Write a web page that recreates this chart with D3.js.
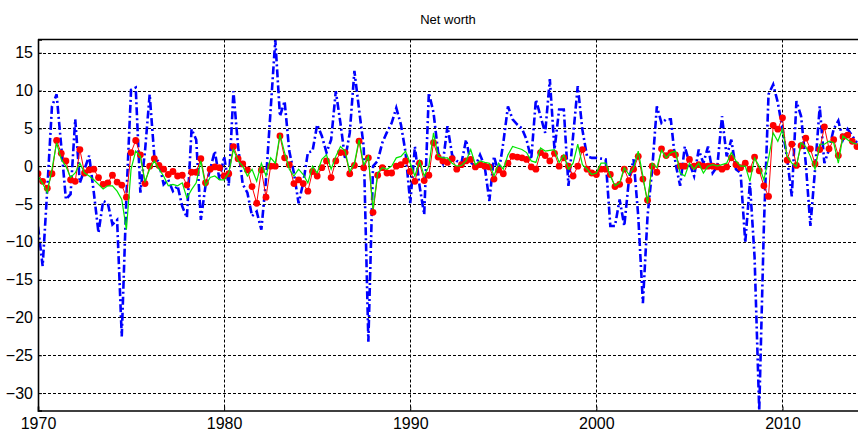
<!DOCTYPE html>
<html>
<head>
<meta charset="utf-8">
<script src="https://cdn.jsdelivr.net/npm/d3@7"></script>
<style>
  body { margin: 0; background: #fff; }
  text { font-family: "Liberation Sans", Arial, sans-serif; }
</style>
</head>
<body>
<div id="chart"></div>
<script>
// quarterly series, first point 1970 Q1
const startYear = 1970;
const xTicks = [1970, 1980, 1990, 2000, 2010];
const yTicks = [15, 10, 5, 0, -5, -10, -15, -20, -25, -30];

const blueSeries = [
  -8, -13.2, -3, 7.9, 9.5, 2.6, -4.4, -3.7, 6.2, -2.2, -0.4, 1.4, -3.5, -8.8, -4.6, -4.9, -7.7, -7.1, -22.5, -4,
  10.1, 10.4, -3.5, 2, 9.5, 1.3, 0.5, -2.4, -1.8, -3.3, -2.6, -5.3, -6.8, 4.9, 3.5, -7.1, -2.6, -0.4, 2.0, -1.8,
  1.3, -2.6, 9.9, 2.6, -2.4, -3.5, -6.6, -6.0, -8.4, -1.8, 7.5, 16.7, 6.6, 8.6, 2, -0.9, -4.9, -2.2, 1.8, 2.0,
  5.5, 4.0, 1.8, 3.5, 9.9, 5.7, 0.9, 4.4, 12.6, 7.5, 2.6, -23.2, 0, 0.7, 3.1, 4.5, 5.7, 7.7, 5.5, 1.8,
  -4.9, 2.6, -2.6, -6.4, 9.7, 7.1, 1.8, 0.4, 5.3, 1.5, 0.7, 0.4, 3.5, 0.5, 0, 1.5, 0, -4.6, 1.3, -0.9,
  3.1, 7.9, 6.2, 5.5, 5.0, 3.5, 0.9, 8.8, 6.6, 4.4, 11.5, 2.2, 7.5, 7.5, -2.6, 4.0, 10.6, 4.8, 1.3, 1.1,
  1.1, 1.0, 0.9, -7.9, -7.9, -4.4, -7.9, -1.8, 0.9, -6.6, -18.1, -6.6, -0.4, 7.9, 5.7, 6.2, 6.2, 0.4, -2.6, 2.6,
  0.4, -1.3, 2.2, 0.4, 2.6, -0.9, 0, 6.6, 1.3, 3.5, -0.4, -0.9, -10.1, -2.2, -12, -32.3, -8, 9.5, 10.8, 8.4,
  4.9, 1.0, -4.0, 8.6, 6.6, 0.4, -7.9, -0.4, 7.9, 0.4, 2.2, 4.9, 6.0, 3.5, 4.9, 4.0, 3.1
];

const redSeries = [
  -1.0, -2.0, -2.9, -1.0, 3.4, 1.7, 0.7, -1.8, -2.0, 2.2, -0.9, -0.5, -0.4, -1.5, -2.4, -2.2, -1.2, -2.1, -2.5, -4.1,
  1.8, 3.4, 1.5, -2.3, 0, 1.0, 0.1, -0.4, -1.1, -0.7, -1.3, -1.2, -2.5, -0.8, -0.8, 1.0, -2.2, -0.4, -0.1, -0.2,
  -1.3, -1.0, 2.6, 1.0, 0.3, -0.5, -2.7, -4.9, -0.5, -4.1, 0, 0, 4.0, 1.1, 0.2, -2.3, -1.8, -2.3, -3.3, -0.7,
  -1.3, -0.2, 0.7, -1.5, 0.7, 1.8, 1.8, -1.0, 0.1, 3.3, -0.2, 1.1, -6.1, -1.2, -0.2, -0.9, -0.9, 0, 0.2, 0.7,
  -0.7, -2.0, 0.4, -1.9, -1.2, 3.1, 1.2, 0.7, 0.5, 1.0, -0.4, 0.2, 0.7, 0.9, -0.1, 0.2, 0, -0.1, -1.7, -0.5,
  -1.0, 0.4, 1.3, 1.2, 1.1, 0.9, -0.1, -0.4, 1.8, 1.4, 0.7, 1.7, 0, 1.1, 0, -1.3, 0, 2.2, -0.4, -0.9,
  -1.1, -0.4, -0.4, -1.1, -2.7, -2.4, -0.4, -1.9, -0.4, 1.3, -1.7, -4.5, 0, -0.8, 2.3, 1.4, 1.8, 1.5, 0, 0,
  0.9, 0, 0.2, 0, 0, 0, -0.1, -0.4, -0.1, 1.1, 0.2, -0.2, 0.4, -0.4, 1.2, -0.6, -2.6, -4.0, 5.4, 4.9,
  6.4, 0.8, 2.9, 0.1, 2.7, 3.7, 2.3, 0.3, 2.2, 5.2, 2.3, 3.5, 1.4, 3.9, 4.1, 3.3, 2.6
];

const greenSeries = [
  -1.3, -2.3, -3.5, -0.4, 3.1, 0.9, 0, -1.5, -0.9, 0.4, -0.9, -1.3, -1.8, -2.4, -3.0, -2.6, -2.6, -3.3, -4.4, -8.4,
  -0.4, 2.0, 1.3, -2.0, -0.4, 0.7, -0.4, -1.3, -2.6, -2.4, -2.6, -2.2, -4.2, -3.1, -2.2, 0.7, -2.6, -1.5, -1.3, -1.8,
  -1.8, -0.9, 2.2, 0.7, 0, -1.3, -0.4, -2.0, 0.4, -1.3, 1.1, 0.4, 4.2, 1.8, -0.4, -1.3, -0.4, -1.1, -2.2, 0,
  -0.9, 0.9, 1.5, -0.4, 1.3, 2.6, 2.0, -0.7, 0.4, 3.5, 0.2, 1.3, -5.7, -0.9, -0.2, -0.4, 0, 1.1, 1.3, 2.0,
  0.4, -1.3, 0.7, -1.3, 0, 4.4, 1.3, 1.1, 1.1, 0.4, 0, 0.1, 0.7, 2.2, 0.2, 0.7, 0.5, 0.4, -1.3, 0.4,
  -0.4, 1.5, 2.6, 2.4, 2.2, 1.8, 0.7, 0.5, 2.4, 2.0, 2.1, 2.2, 0.5, 1.5, -0.4, 0.4, 2.9, 0.2, -0.4, -1.1,
  -0.9, 0.4, 0.4, -1.3, -2.6, -2.2, -0.2, -1.1, -0.2, 2.0, -1.3, -4.9, 0.4, -0.2, 2.1, 1.1, 1.8, 2.0, -0.9, -1.3,
  0.4, -0.4, 0.4, -0.9, 0, 0.2, 0, 0.2, 0.4, 1.8, 0.7, 0, 0, -2.0, 1.1, 0, -1.8, 1.0, 4.4, 3.3,
  4.9, 1.3, 0.4, 0, 3.1, 2.6, 1.3, -0.4, 2.9, 2.9, 3.3, 3.1, 0.4, 4.0, 3.5, 3.1, 2.9
];

const W = 858, H = 438;
const plot = {left: 38, right: 858.8, top: 39.5, bottom: 410.5};

const svg = d3.select("#chart")
    .append("svg")
    .attr("width", W)
    .attr("height", H);

const x = d3.scaleLinear()
    .domain([1970, 2014.1])
    .range([plot.left, plot.right]);

const y = d3.scaleLinear()
    .domain([-32.3, 16.75])
    .range([plot.bottom, plot.top]);

const toPoints = arr => arr.map((v, i) => ({t: startYear + i / 4, value: v}));

// grid
svg.append("g")
    .selectAll("line")
    .data(yTicks)
    .join("line")
    .attr("x1", plot.left).attr("x2", plot.right)
    .attr("y1", d => Math.round(y(d)) + 0.5).attr("y2", d => Math.round(y(d)) + 0.5)
    .attr("stroke", "#000").attr("stroke-width", 1)
    .attr("stroke-dasharray", "3,2");
svg.append("g")
    .selectAll("line")
    .data(xTicks.slice(1))
    .join("line")
    .attr("x1", d => Math.round(x(d)) + 0.5).attr("x2", d => Math.round(x(d)) + 0.5)
    .attr("y1", plot.top).attr("y2", plot.bottom)
    .attr("stroke", "#000").attr("stroke-width", 1)
    .attr("stroke-dasharray", "3,2");

svg.append("clipPath").attr("id", "clip")
    .append("rect")
    .attr("x", plot.left).attr("y", plot.top)
    .attr("width", plot.right - plot.left).attr("height", plot.bottom - plot.top);

const line = d3.line()
    .x(d => x(d.t))
    .y(d => y(d.value));

const series = svg.append("g").attr("clip-path", "url(#clip)");

series.append("path")
    .datum(toPoints(blueSeries))
    .attr("fill", "none")
    .attr("stroke", "#0000ff")
    .attr("stroke-width", 2.6)
    .attr("stroke-dasharray", "8,3,2,3")
    .attr("d", line);

series.append("path")
    .datum(toPoints(redSeries))
    .attr("fill", "none")
    .attr("stroke", "#ff0000")
    .attr("stroke-width", 1)
    .attr("d", line);
series.append("g")
    .selectAll("circle")
    .data(toPoints(redSeries))
    .join("circle")
    .attr("cx", d => x(d.t))
    .attr("cy", d => y(d.value))
    .attr("r", 3.4)
    .attr("fill", "#ff0000");

series.append("path")
    .datum(toPoints(greenSeries))
    .attr("fill", "none")
    .attr("stroke", "#00e600")
    .attr("stroke-width", 1.2)
    .attr("d", line);

// axes box
svg.append("g")
    .attr("transform", `translate(0,${plot.bottom})`)
    .call(d3.axisBottom(x).tickValues(xTicks).tickFormat(d3.format("d")).tickSize(-4).tickPadding(7))
    .call(g => g.select(".domain").attr("stroke-width", 1.6))
    .selectAll("text")
    .attr("font-size", 16).attr("fill", "#000");

svg.append("g")
    .attr("transform", `translate(${plot.left},0)`)
    .call(d3.axisLeft(y).tickValues(yTicks).tickSize(-4).tickPadding(5))
    .call(g => g.select(".domain").attr("stroke-width", 1.6))
    .selectAll("text")
    .attr("font-size", 16).attr("fill", "#000");

svg.append("line")
    .attr("x1", plot.left).attr("x2", plot.right)
    .attr("y1", plot.top).attr("y2", plot.top)
    .attr("stroke", "#000").attr("stroke-width", 1.6);

svg.append("text")
    .attr("x", (plot.left + 858) / 2)
    .attr("y", 24)
    .attr("text-anchor", "middle")
    .attr("font-size", 13)
    .text("Net worth");
</script>
</body>
</html>
